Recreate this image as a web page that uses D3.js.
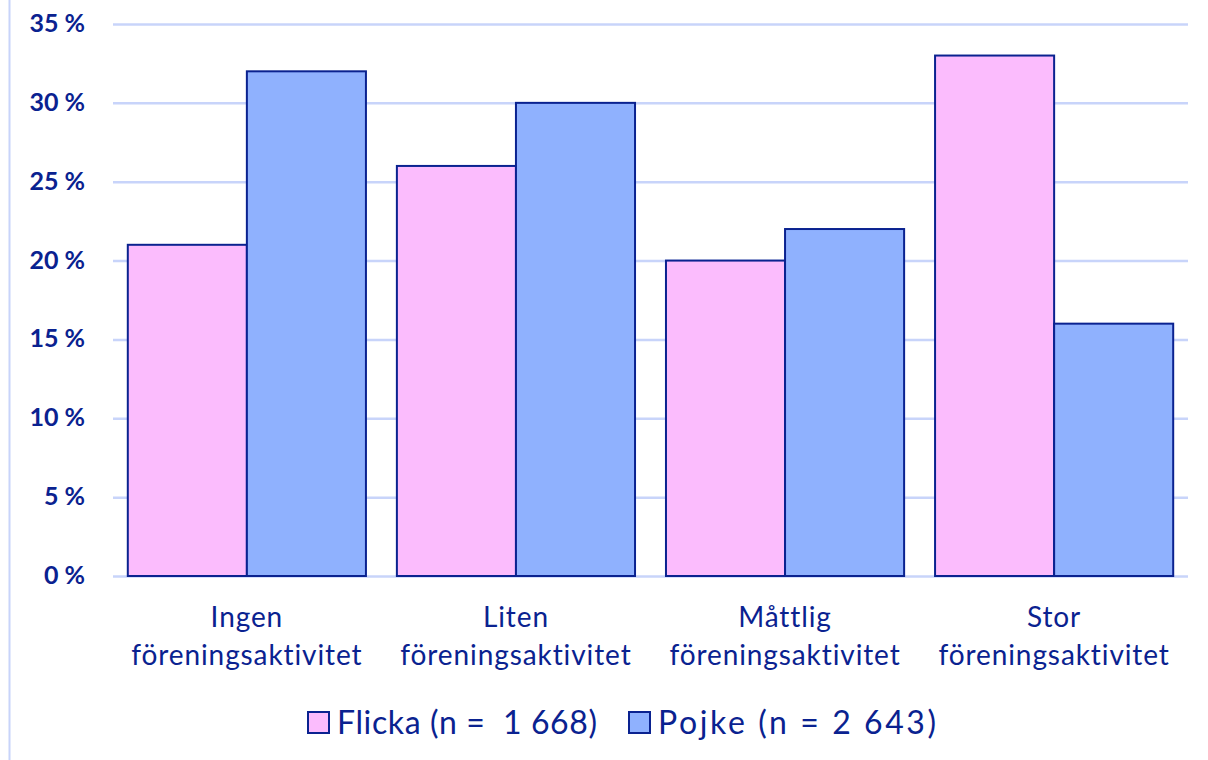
<!DOCTYPE html>
<html><head><meta charset="utf-8">
<script src="https://cdn.jsdelivr.net/npm/d3@7"></script>
<style>body{margin:0;background:#fff}svg{display:block}</style>
</head><body>
<script>
const categories = [["Ingen","föreningsaktivitet"],["Liten","föreningsaktivitet"],["Måttlig","föreningsaktivitet"],["Stor","föreningsaktivitet"]];
const seriesNames = ["Flicka (n =  1 668)","Pojke (n = 2 643)"];
const flicka = [21,26,20,33];
const pojke = [32,30,22,16];
const yTicks = [0,5,10,15,20,25,30,35];

const W=1208,H=760;
const navy="#0a2290", grid="#c8d4fa";
const colors=["#fbbcfd","#8fb1fe"];
const font="Lato, 'Open Sans', sans-serif";
const svg=d3.select("body").append("svg").attr("width",W).attr("height",H);
svg.append("line").attr("x1",9.5).attr("x2",9.5).attr("y1",0).attr("y2",H).attr("stroke",grid).attr("stroke-width",2);

const x0=d3.scaleBand().domain(d3.range(categories.length)).range([113,1188]).paddingInner(0.115).paddingOuter(0.055);
const x1=d3.scaleBand().domain([0,1]).range([0,x0.bandwidth()]);
const y=d3.scaleLinear().domain([0,35]).range([576,24]);

const gy=svg.append("g").attr("transform","translate(113,0)")
  .call(d3.axisLeft(y).tickValues(yTicks).tickSize(-1075).tickFormat(d=>d+" %").tickPadding(28));
gy.select(".domain").remove();
gy.selectAll(".tick line").attr("stroke",grid).attr("stroke-width",2.5);
gy.selectAll(".tick text").attr("fill",navy).attr("font-family",font).attr("font-weight","bold").attr("font-size",25).attr("dy","0.3em");

const data=[flicka,pojke];
const g=svg.append("g");
data.forEach((vals,s)=>{
  g.selectAll(".b"+s).data(vals).join("rect")
   .attr("x",(d,i)=>x0(i)+x1(s)).attr("width",x1.bandwidth())
   .attr("y",d=>y(d)).attr("height",d=>y(0)-y(d))
   .attr("fill",colors[s]).attr("stroke",navy).attr("stroke-width",2);
});

const labels=svg.append("g");
categories.forEach((c,i)=>{
  const cx=x0(i)+x0.bandwidth()/2;
  const t=labels.append("text").attr("x",cx).attr("y",627).attr("text-anchor","middle")
    .attr("fill",navy).attr("font-family",font).attr("font-size",28).attr("letter-spacing",0.9);
  c.forEach((line,k)=>t.append("tspan").attr("x",cx).attr("dy",k?38:0).text(line));
});

const leg=svg.append("g");
const legX=[308,629];
const legLen=[260,278];
seriesNames.forEach((n,s)=>{
  leg.append("rect").attr("x",legX[s]).attr("y",712).attr("width",21).attr("height",21)
    .attr("fill",colors[s]).attr("stroke",navy).attr("stroke-width",2);
  leg.append("text").attr("x",legX[s]+29).attr("y",734).attr("fill",navy).attr("font-family",font)
    .attr("font-size",32).attr("textLength",legLen[s]).attr("lengthAdjust","spacing")
    .style("white-space","pre").text(n);
});
</script>
</body></html>
